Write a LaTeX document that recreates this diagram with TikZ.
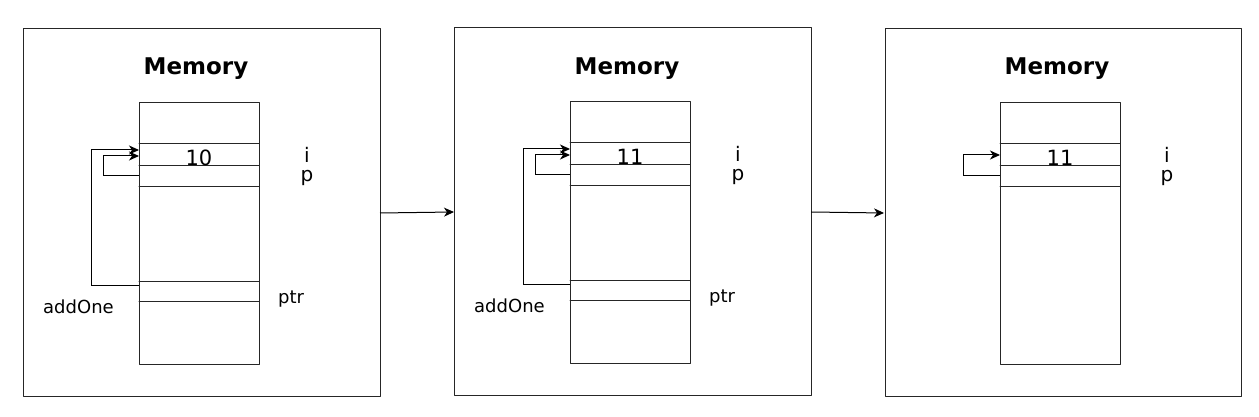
\documentclass[tikz,border=0pt]{standalone}
\usepackage{fontspec}
\setmainfont{DejaVu Sans}
\usepackage{tkz-euclide}
\usetikzlibrary{arrows.meta}

\begin{document}
\begin{tikzpicture}[x=1pt,y=1pt,
    memline/.style={line width=1pt,black!85},
    memarrow/.style={line width=1pt,black,-{Stealth[length=10pt,width=9pt,inset=3pt]}},
    memtitle/.style={font=\fontsize{23}{28}\selectfont\bfseries,anchor=base,inner sep=0pt},
    memtext/.style={font=\fontsize{18}{22}\selectfont,anchor=base,inner sep=0pt},
    memval/.style={font=\fontsize{21}{25}\selectfont,anchor=base,inner sep=0pt},
    memname/.style={font=\fontsize{20}{24}\selectfont,anchor=base,inner sep=0pt}]
\useasboundingbox (0,0) rectangle (1259,417);

% first state
\begin{scope}
    \tkzDefPoint(23,388){A}
    \tkzDefPoint(380,388){B}
    \tkzDefPoint(380,20){C}
    \tkzDefPoint(23,20){D}
    \tkzDrawPolygon[memline](A,B,C,D)

    \tkzDefPoint(139,314){M1}
    \tkzDefPoint(259,314){M2}
    \tkzDefPoint(259,52){M3}
    \tkzDefPoint(139,52){M4}
    \tkzDrawPolygon[memline](M1,M2,M3,M4)

    \tkzDefShiftPoint[M1](0,-41){R1}
    \tkzDefShiftPoint[M1](0,-63){R2}
    \tkzDefShiftPoint[M1](0,-84){R3}
    \tkzDefShiftPoint[M1](0,-179){R4}
    \tkzDefShiftPoint[M1](0,-199){R5}
    \tkzDefShiftPoint[R1](120,0){S1}
    \tkzDefShiftPoint[R2](120,0){S2}
    \tkzDefShiftPoint[R3](120,0){S3}
    \tkzDefShiftPoint[R4](120,0){S4}
    \tkzDefShiftPoint[R5](120,0){S5}
    \tkzDrawSegments[memline](R1,S1 R2,S2 R3,S3 R4,S4 R5,S5)

    % pointer p -> i
    \tkzDefPoint(139,241){P1}
    \tkzDefPoint(103,241){P2}
    \tkzDefPoint(103,261){P3}
    \tkzDefPoint(139,261){P4}
    \draw[memarrow] (P1) -- (P2) -- (P3) -- (P4);

    % ptr -> i
    \tkzDefPoint(139,131){Q1}
    \tkzDefPoint(91,131){Q2}
    \tkzDefPoint(91,267){Q3}
    \tkzDefPoint(139,267){Q4}
    \draw[memarrow] (Q1) -- (Q2) -- (Q3) -- (Q4);

    \node[memtitle] (title1) at (196,342) {Memory};
    \node[memval] (val1) at (199,251) {10};
    \node[memname] (i1) at (307,254) {i};
    \node[memname] (p1) at (307,235) {p};
    \node[memtext,anchor=base west] (ptr1) at (278,113) {ptr};
    \node[memtext,anchor=base west] (fn1) at (43,103) {addOne};

    \tkzDefPoint(380,204){Out1}
\end{scope}

% after addOne
\begin{scope}[shift={(431,1)}]
    \tkzDefPoint(23,388){A}
    \tkzDefPoint(380,388){B}
    \tkzDefPoint(380,20){C}
    \tkzDefPoint(23,20){D}
    \tkzDrawPolygon[memline](A,B,C,D)

    \tkzDefPoint(139,314){M1}
    \tkzDefPoint(259,314){M2}
    \tkzDefPoint(259,52){M3}
    \tkzDefPoint(139,52){M4}
    \tkzDrawPolygon[memline](M1,M2,M3,M4)

    \tkzDefShiftPoint[M1](0,-41){R1}
    \tkzDefShiftPoint[M1](0,-63){R2}
    \tkzDefShiftPoint[M1](0,-84){R3}
    \tkzDefShiftPoint[M1](0,-179){R4}
    \tkzDefShiftPoint[M1](0,-199){R5}
    \tkzDefShiftPoint[R1](120,0){S1}
    \tkzDefShiftPoint[R2](120,0){S2}
    \tkzDefShiftPoint[R3](120,0){S3}
    \tkzDefShiftPoint[R4](120,0){S4}
    \tkzDefShiftPoint[R5](120,0){S5}
    \tkzDrawSegments[memline](R1,S1 R2,S2 R3,S3 R4,S4 R5,S5)

    \tkzDefPoint(139,241){P1}
    \tkzDefPoint(104,241){P2}
    \tkzDefPoint(104,261){P3}
    \tkzDefPoint(139,261){P4}
    \draw[memarrow] (P1) -- (P2) -- (P3) -- (P4);

    \tkzDefPoint(139,131){Q1}
    \tkzDefPoint(92,131){Q2}
    \tkzDefPoint(92,267){Q3}
    \tkzDefPoint(139,267){Q4}
    \draw[memarrow] (Q1) -- (Q2) -- (Q3) -- (Q4);

    \node[memval] (val2) at (199,251) {11};
    \node[memtitle] (title2) at (196,341) {Memory};
    \node[memname] (i2) at (307,254) {i};
    \node[memname] (p2) at (307,235) {p};
    \node[memtext,anchor=base west] (ptr2) at (278,113) {ptr};
    \node[memtext,anchor=base west] (fn2) at (43,103) {addOne};

    \tkzDefPoint(23,204){In2}
    \tkzDefPoint(380,204){Out2}
\end{scope}

% after return
\begin{scope}[shift={(861,0)}]
    \tkzDefPoint(24,388){A}
    \tkzDefPoint(380,388){B}
    \tkzDefPoint(380,20){C}
    \tkzDefPoint(24,20){D}
    \tkzDrawPolygon[memline](A,B,C,D)

    \tkzDefPoint(139,314){M1}
    \tkzDefPoint(259,314){M2}
    \tkzDefPoint(259,52){M3}
    \tkzDefPoint(139,52){M4}
    \tkzDrawPolygon[memline](M1,M2,M3,M4)

    \tkzDefShiftPoint[M1](0,-41){R1}
    \tkzDefShiftPoint[M1](0,-63){R2}
    \tkzDefShiftPoint[M1](0,-84){R3}
    \tkzDefShiftPoint[R1](120,0){S1}
    \tkzDefShiftPoint[R2](120,0){S2}
    \tkzDefShiftPoint[R3](120,0){S3}
    \tkzDrawSegments[memline](R1,S1 R2,S2 R3,S3)

    \tkzDefPoint(139,241){P1}
    \tkzDefPoint(102,241){P2}
    \tkzDefPoint(102,262){P3}
    \tkzDefPoint(139,262){P4}
    \draw[memarrow] (P1) -- (P2) -- (P3) -- (P4);

    \node[memtitle] (title3) at (196,342) {Memory};
    \node[memval] (val3) at (199,251) {11};
    \node[memname] (i3) at (306,254) {i};
    \node[memname] (p3) at (306,235) {p};

    \tkzDefPoint(23,204){In3}
\end{scope}

\draw[memarrow] (Out1) -- (In2);
\draw[memarrow] (Out2) -- (In3);
\end{tikzpicture}
\end{document}
